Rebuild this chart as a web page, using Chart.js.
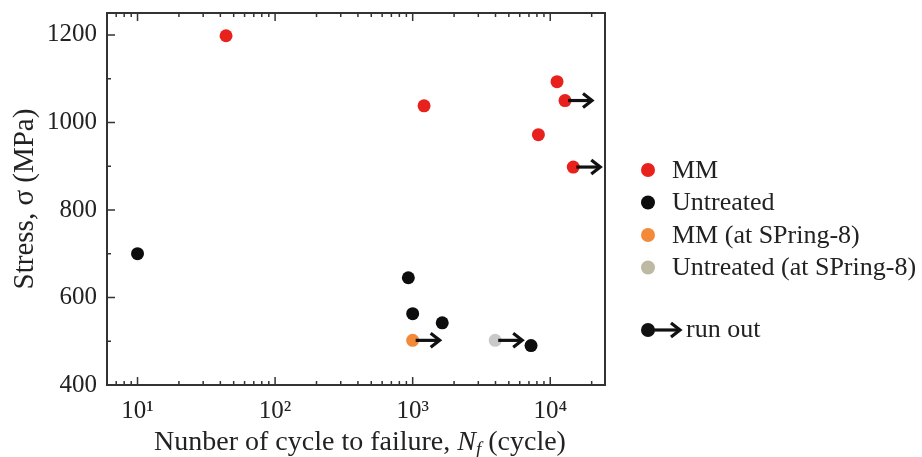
<!DOCTYPE html>
<html>
<head>
<meta charset="utf-8">
<script src="https://cdn.jsdelivr.net/npm/chart.js@4"></script>
<style>
	html, body { margin: 0; padding: 0; background: #fff; }
	#wrap { width: 922px; height: 457px; }
</style>
</head>
<body>
<div id="wrap"><canvas id="snChart"></canvas></div>
<script>
(function() {

	/* ================= Data ================= */

	var mmCycles = [44, 1210, 11200, 12800, 8200, 14700];
	var mmStress = [1198, 1038, 1093, 1050, 972, 898];
	var mmRunOut = [false, false, false, true, false, true];

	var untreatedCycles = [10, 930, 1000, 1640, 7250];
	var untreatedStress = [700, 645, 563, 542, 490];
	var untreatedRunOut = [false, false, false, false, false];

	var mmSpringCycles = [1000];
	var mmSpringStress = [502];
	var mmSpringRunOut = [true];

	var untreatedSpringCycles = [3980];
	var untreatedSpringStress = [502];
	var untreatedSpringRunOut = [true];

	var seriesLabels = ['MM', 'Untreated', 'MM (at SPring-8)', 'Untreated (at SPring-8)'];
	var runOutLabel = 'run out';

	var xMin = 6, xMax = 25000;
	var yMin = 400, yMax = 1250;
	var yTickValues = [400, 500, 600, 700, 800, 900, 1000, 1100, 1200];

	/* ================= Helpers ================= */

	var serif = '"Liberation Serif", "DejaVu Serif", serif';
	var ink = '#222';

	function toPoints(xs, ys) {
		return xs.map(function(x, i) {
			return { x: x, y: ys[i] };
		});
	}

	function superscript(n) {
		var sup = { '0': '\u2070', '1': '\u00b9', '2': '\u00b2', '3': '\u00b3', '4': '\u2074', '5': '\u2075' };
		return String(n).split('').map(function(c) { return sup[c]; }).join('');
	}

	function isPow10(v) {
		var e = Math.log10(v);
		return Math.abs(e - Math.round(e)) < 1e-9;
	}

	function isNiceLog(v) {
		var m = v / Math.pow(10, Math.floor(Math.log10(v) + 1e-9));
		return Math.abs(m - Math.round(m)) < 1e-6;
	}

	function drawArrow(ctx, x, y, len) {
		ctx.save();
		ctx.strokeStyle = '#111';
		ctx.lineWidth = 3.2;
		ctx.lineCap = 'butt';
		ctx.lineJoin = 'miter';
		ctx.beginPath();
		ctx.moveTo(x, y);
		ctx.lineTo(x + len - 1, y);
		ctx.stroke();
		ctx.beginPath();
		ctx.moveTo(x + len - 9, y - 7);
		ctx.lineTo(x + len, y);
		ctx.lineTo(x + len - 9, y + 7);
		ctx.stroke();
		ctx.restore();
	}

	/* ================= Plugins ================= */

	// frame + inward ticks (bottom/top on x, left on y)
	var framePlugin = {
		id: 'frame',
		afterDraw: function(chart) {
			var ctx = chart.ctx;
			var a = chart.chartArea;
			var xs = chart.scales.x, ys = chart.scales.y;
			ctx.save();
			ctx.strokeStyle = '#333';
			ctx.lineWidth = 2;
			ctx.strokeRect(a.left, a.top, a.right - a.left, a.bottom - a.top);
			ctx.lineWidth = 1.5;
			ctx.beginPath();
			xs.ticks.forEach(function(t) {
				if (!isNiceLog(t.value)) return;
				var px = xs.getPixelForValue(t.value);
				if (px <= a.left + 1 || px >= a.right - 1) return;
				var len = isPow10(t.value) ? 8 : 4;
				ctx.moveTo(px, a.bottom);
				ctx.lineTo(px, a.bottom - len);
				ctx.moveTo(px, a.top);
				ctx.lineTo(px, a.top + len);
			});
			ys.ticks.forEach(function(t) {
				var py = ys.getPixelForValue(t.value);
				if (py >= a.bottom - 1 || py <= a.top + 1) return;
				var len = t.value % 200 === 0 ? 8 : 4;
				ctx.moveTo(a.left, py);
				ctx.lineTo(a.left + len, py);
			});
			ctx.stroke();
			ctx.restore();
		}
	};

	// run-out arrows after the flagged points
	var runOutPlugin = {
		id: 'runOut',
		afterDatasetsDraw: function(chart) {
			var ctx = chart.ctx;
			chart.data.datasets.forEach(function(ds, di) {
				var meta = chart.getDatasetMeta(di);
				ds.runOut.forEach(function(flag, i) {
					if (!flag) return;
					var el = meta.data[i];
					drawArrow(ctx, el.x + 3, el.y, 24);
				});
			});
		}
	};

	// x title with italic N and subscript f
	var xTitlePlugin = {
		id: 'xTitle',
		afterDraw: function(chart) {
			var ctx = chart.ctx;
			var a = chart.chartArea;
			var parts = [
				{ t: 'Nunber of cycle to failure, ', f: '28px ' + serif, dy: 0 },
				{ t: 'N', f: 'italic 28px ' + serif, dy: 0 },
				{ t: 'f', f: 'italic 19px ' + serif, dy: 5 },
				{ t: ' (cycle)', f: '28px ' + serif, dy: 0 }
			];
			ctx.save();
			ctx.fillStyle = ink;
			ctx.textBaseline = 'alphabetic';
			var total = 0;
			parts.forEach(function(p) {
				ctx.font = p.f;
				p.w = ctx.measureText(p.t).width;
				total += p.w;
			});
			var x = (a.left + a.right) / 2 - total / 2 + 4;
			var base = 450;
			parts.forEach(function(p) {
				ctx.font = p.f;
				ctx.fillText(p.t, x, base + p.dy);
				x += p.w;
			});
			ctx.restore();
		}
	};

	// legend on the right
	var legendPlugin = {
		id: 'sideLegend',
		afterDraw: function(chart) {
			var ctx = chart.ctx;
			var markX = 648, textX = 672, rowY = 170, rowGap = 32.5;
			ctx.save();
			ctx.font = '26px ' + serif;
			ctx.fillStyle = ink;
			ctx.textBaseline = 'middle';
			chart.data.datasets.forEach(function(ds, i) {
				var y = rowY + i * rowGap;
				ctx.beginPath();
				ctx.fillStyle = ds.legendColor;
				ctx.arc(markX, y, 7, 0, Math.PI * 2);
				ctx.fill();
				ctx.fillStyle = ink;
				ctx.fillText(ds.label, textX, y + 1);
			});
			var ry = 330;
			ctx.beginPath();
			ctx.fillStyle = '#111';
			ctx.arc(markX, ry, 7, 0, Math.PI * 2);
			ctx.fill();
			drawArrow(ctx, markX + 3, ry, 29);
			ctx.fillStyle = ink;
			ctx.fillText(runOutLabel, 686, ry);
			ctx.restore();
		}
	};

	/* ================= Chart ================= */

	function makeSet(label, xs, ys, runOut, color, legendColor) {
		return {
			label: label,
			data: toPoints(xs, ys),
			runOut: runOut,
			legendColor: legendColor || color,
			backgroundColor: color,
			borderColor: color,
			pointRadius: 6.5,
			pointHoverRadius: 6.5,
			pointBorderWidth: 0
		};
	}

	var ctx = document.getElementById('snChart');
	var snChart = new Chart(ctx, {
		type: 'scatter',
		data: {
			datasets: [
				makeSet(seriesLabels[0], mmCycles, mmStress, mmRunOut, '#e8211d'),
				makeSet(seriesLabels[1], untreatedCycles, untreatedStress, untreatedRunOut, '#0d0d0d'),
				makeSet(seriesLabels[2], mmSpringCycles, mmSpringStress, mmSpringRunOut, '#f28a3a'),
				makeSet(seriesLabels[3], untreatedSpringCycles, untreatedSpringStress, untreatedSpringRunOut, '#c9c9cc', '#bdb9a2')
			]
		},
		options: {
			responsive: true,
			maintainAspectRatio: false,
			animation: false,
			layout: { padding: { top: 13, right: 317, left: 0, bottom: 0 } },
			plugins: {
				legend: { display: false },
				tooltip: { enabled: false }
			},
			scales: {
				x: {
					type: 'logarithmic',
					min: xMin,
					max: xMax,
					grid: { display: false, drawTicks: false },
					border: { display: false },
					afterFit: function(scale) {
						scale.height = 72;
						scale.paddingLeft = 0;
						scale.paddingRight = 0;
					},
					ticks: {
						autoSkip: false,
						maxRotation: 0,
						padding: 11,
						color: ink,
						font: { family: serif, size: 25 },
						callback: function(value) {
							return isPow10(value) ? '10' + superscript(Math.round(Math.log10(value))) : '';
						}
					}
				},
				y: {
					min: yMin,
					max: yMax,
					grid: { display: false, drawTicks: false },
					border: { display: false },
					afterFit: function(scale) {
						scale.width = 107;
						scale.paddingTop = 0;
						scale.paddingBottom = 0;
					},
					afterBuildTicks: function(scale) {
						scale.ticks = yTickValues.map(function(v) { return { value: v }; });
					},
					title: {
						display: true,
						text: 'Stress, \u03c3 (MPa)',
						color: ink,
						font: { family: serif, size: 29 },
						padding: { top: 8, bottom: 0 }
					},
					ticks: {
						padding: 10,
						color: ink,
						font: { family: serif, size: 25 },
						callback: function(value) {
							return value % 200 === 0 ? value : '';
						}
					}
				}
			}
		},
		plugins: [framePlugin, runOutPlugin, xTitlePlugin, legendPlugin]
	});

})();
</script>
</body>
</html>
